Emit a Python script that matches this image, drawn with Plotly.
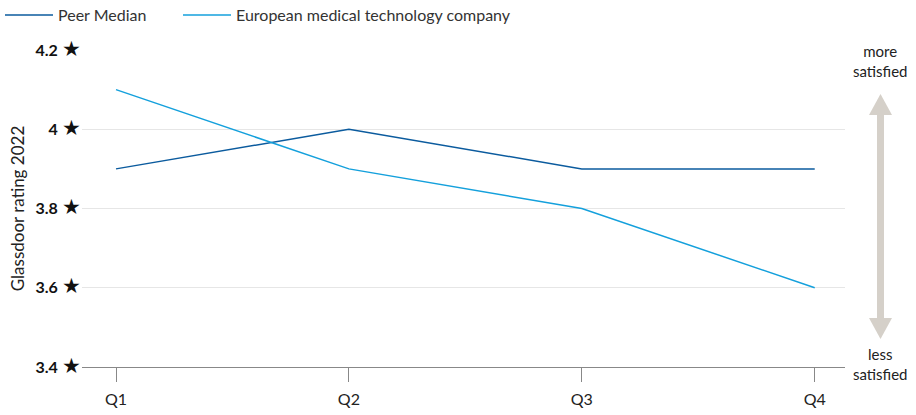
import plotly.graph_objects as go

quarters = ["Q1", "Q2", "Q3", "Q4"]
peer_median = [3.9, 4.0, 3.9, 3.9]
company = [4.1, 3.9, 3.8, 3.6]
y_ticks = [3.4, 3.6, 3.8, 4.0, 4.2]
y_tick_labels = ["3.4", "3.6", "3.8", "4", "4.2"]

W, H = 916, 415
L, R, T, B = 82, 71, 50, 48
pw, ph = W - L - R, H - T - B

def px(x):
    return (x - L) / pw

def py(y):
    return (H - B - y) / ph

fig = go.Figure()
fig.add_trace(go.Scatter(x=quarters, y=peer_median, mode="lines", name="Peer Median",
                         line=dict(color="#0b5b9e", width=1.5), legend="legend"))
fig.add_trace(go.Scatter(x=quarters, y=company, mode="lines", name="European medical technology company",
                         line=dict(color="#14a0dc", width=1.5), legend="legend2"))

arrow_col = "#d5d0c9"
shapes = [
    dict(type="rect", xref="paper", yref="paper", x0=px(877), x1=px(884), y0=py(320), y1=py(112),
         fillcolor=arrow_col, line=dict(width=0)),
    dict(type="path", xref="paper", yref="paper",
         path=f"M {px(869)} {py(115)} L {px(892)} {py(115)} L {px(880.5)} {py(94)} Z",
         fillcolor=arrow_col, line=dict(width=0)),
    dict(type="path", xref="paper", yref="paper",
         path=f"M {px(869)} {py(318)} L {px(892)} {py(318)} L {px(880.5)} {py(339)} Z",
         fillcolor=arrow_col, line=dict(width=0)),
]

annotations = [
    dict(text="more<br>satisfied", xref="paper", yref="paper", x=px(880), y=py(61),
         showarrow=False, font=dict(size=15, color="#222"), xanchor="center", yanchor="middle"),
    dict(text="less<br>satisfied", xref="paper", yref="paper", x=px(880), y=py(364),
         showarrow=False, font=dict(size=15, color="#222"), xanchor="center", yanchor="middle"),
]

leg_common = dict(orientation="h", xref="container", yref="container", xanchor="left",
                  y=1 - 15 / H, yanchor="middle", font=dict(size=16, color="#333"),
                  bgcolor="rgba(0,0,0,0)", itemwidth=48)

fig.update_layout(
    width=W, height=H,
    margin=dict(l=L, r=R, t=T, b=B, autoexpand=False),
    paper_bgcolor="white", plot_bgcolor="white",
    font=dict(family="Lato, Noto Sans, sans-serif", size=15, color="#222"),
    showlegend=True,
    legend=dict(x=0.0, **leg_common),
    legend2=dict(x=178 / W, **leg_common),
    shapes=shapes,
    annotations=annotations,
)
fig.update_xaxes(type="category", range=[-0.146, 3.13], showgrid=False,
                 showline=True, linecolor="#888", linewidth=1,
                 ticks="outside", ticklen=14, tickcolor="#888", ticklabelstandoff=4,
                 tickfont=dict(size=16))
fig.update_yaxes(range=[3.4, 4.2], tickvals=y_ticks,
                 ticktext=[f"<b>{t}</b> <span style='font-size:21px'>★</span>" for t in y_tick_labels],
                 showgrid=True, gridcolor="#e6e6e6", gridwidth=1, zeroline=False,
                 ticks="", tickfont=dict(size=16, color="#111"),
                 title=dict(text="Glassdoor rating 2022", font=dict(size=17), standoff=6))
fig.write_html("out.html", config={"displayModeBar": False},
               post_script="document.body.style.margin='0';")
